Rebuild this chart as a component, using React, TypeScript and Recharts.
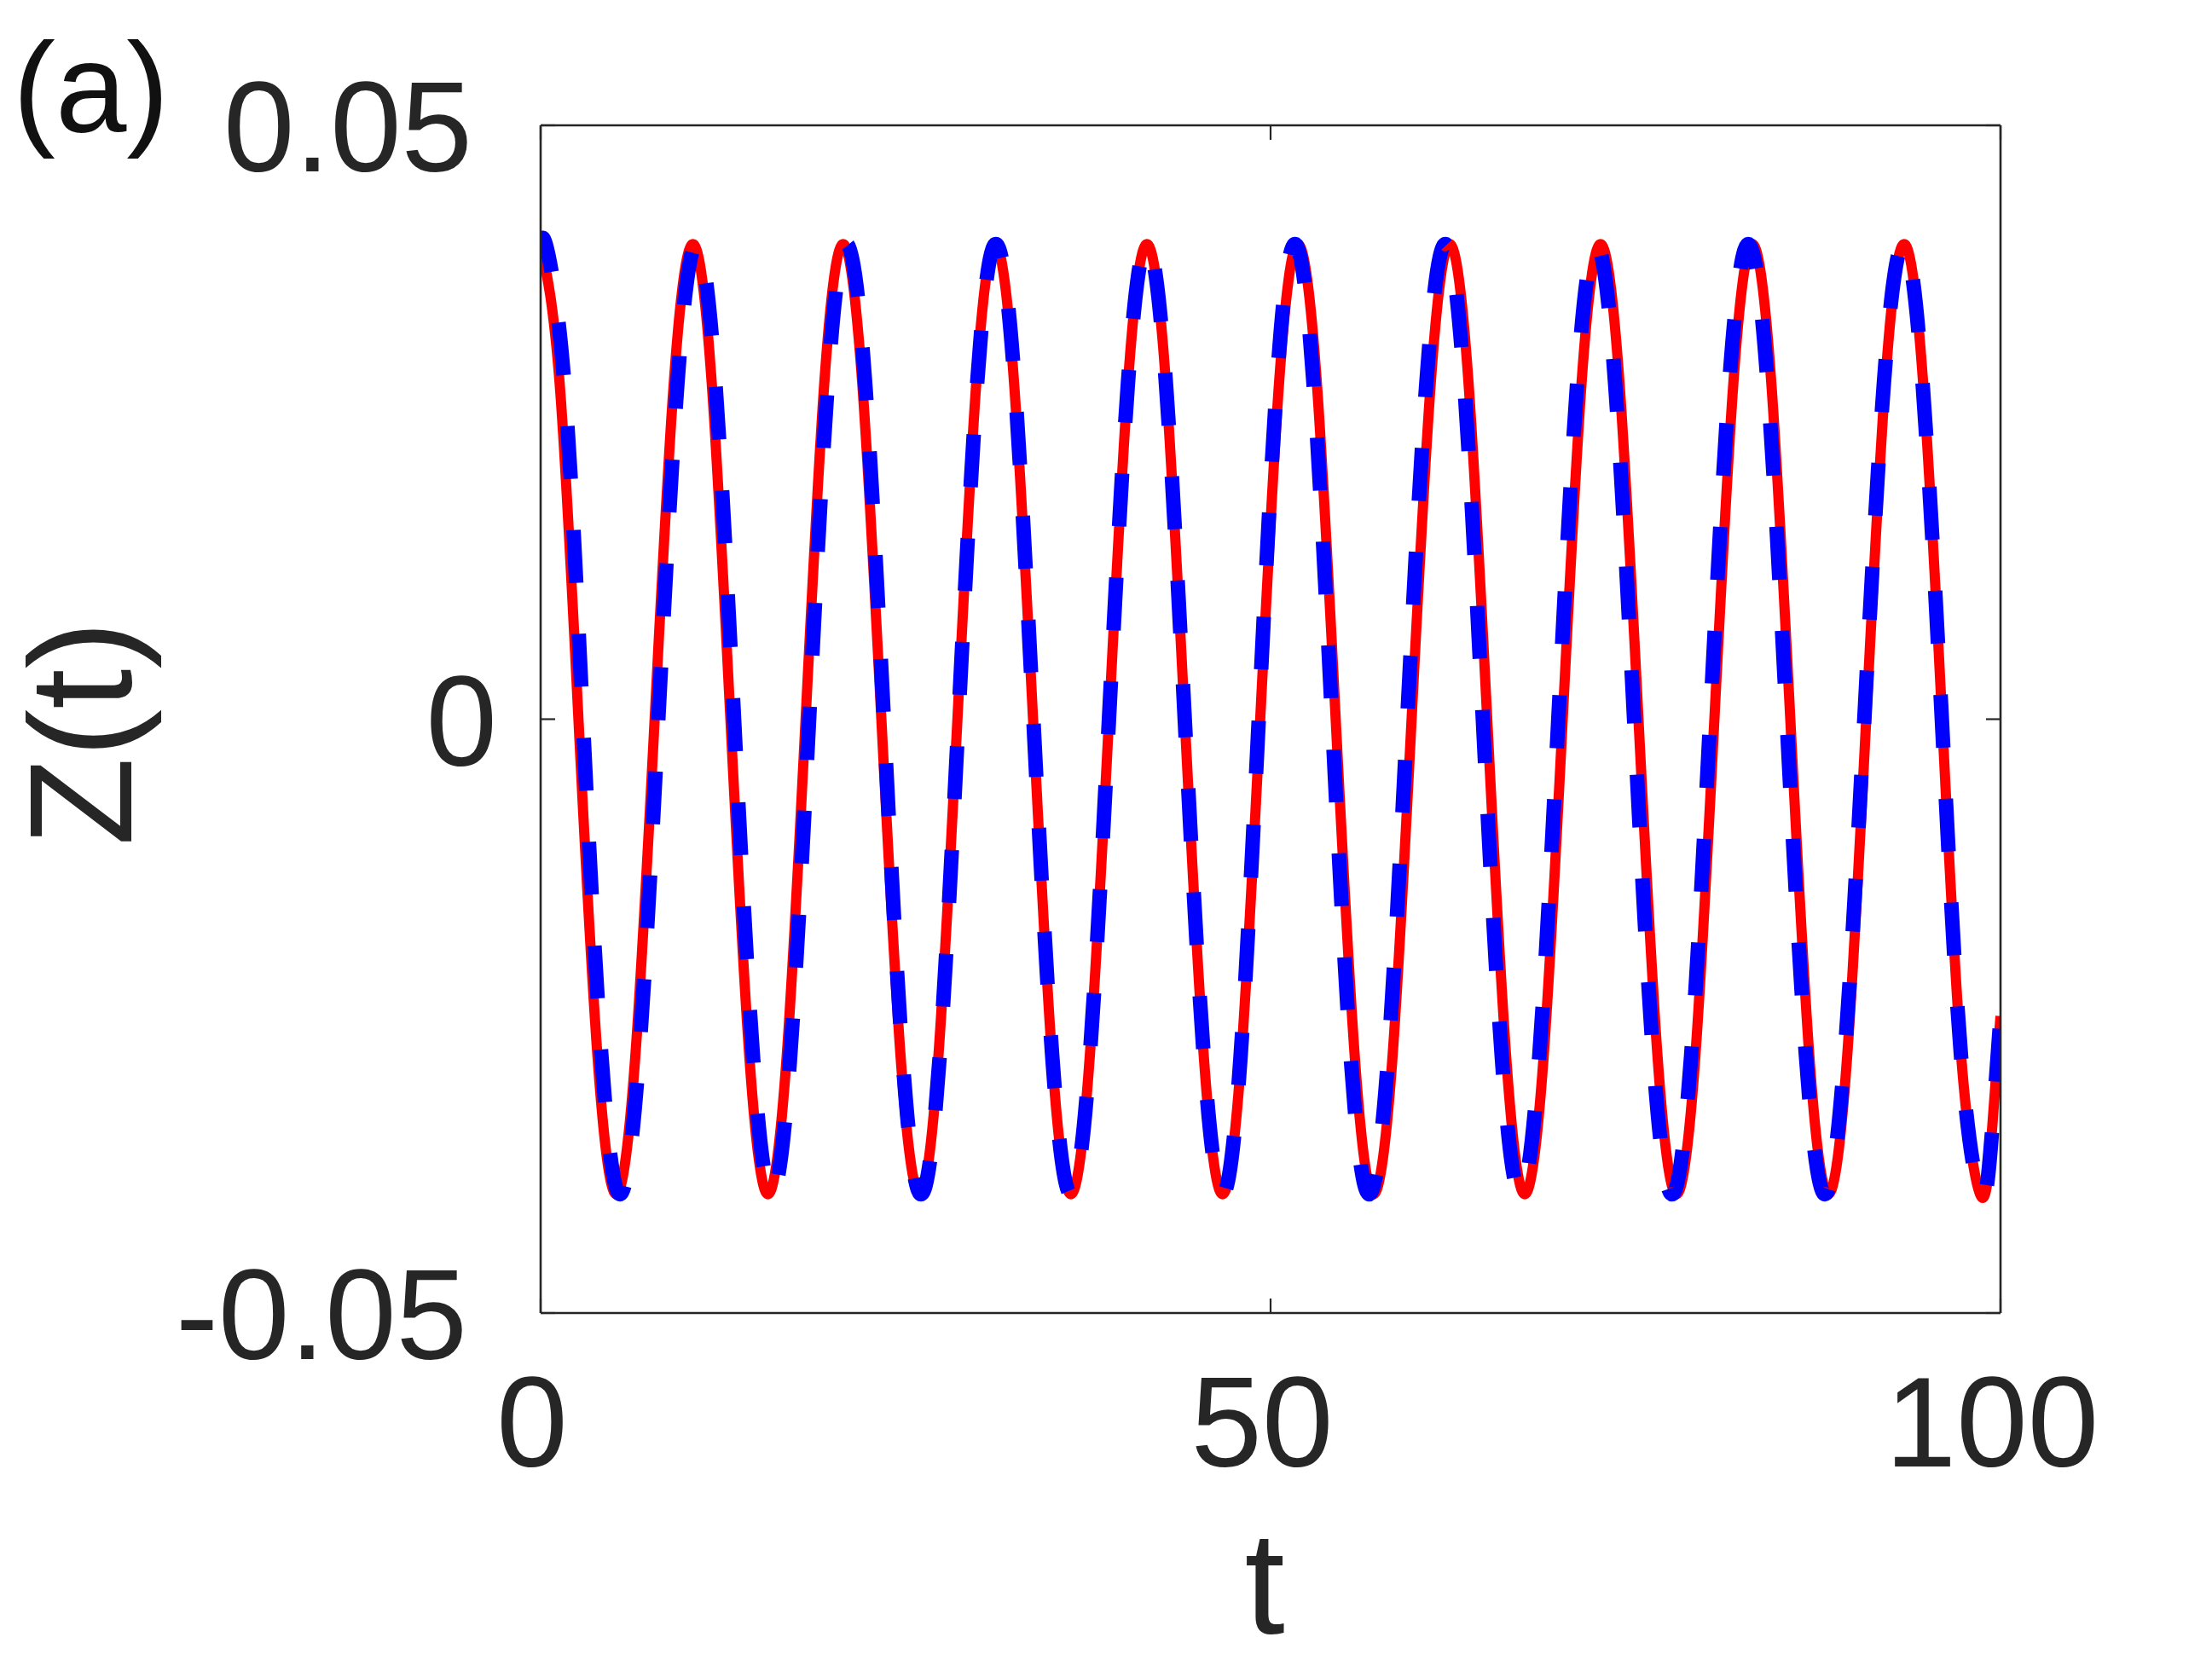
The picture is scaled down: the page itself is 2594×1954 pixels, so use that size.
import React from 'react';
import { LineChart, Line, XAxis, YAxis } from 'recharts';

// t values and Z(t) values (red solid curve)
const redT = [
  0, 1.30, 2.59, 3.89, 5.18, 6.49, 7.81, 9.12, 10.43, 11.72, 13.00, 14.29, 15.57,
  16.86, 18.15, 19.43, 20.72, 22.03, 23.34, 24.65, 25.96, 27.25, 28.55, 29.84, 31.13,
  32.43, 33.73, 35.02, 36.32, 37.62, 38.93, 40.23, 41.53, 42.83, 44.12, 45.42, 46.71,
  48.00, 49.29, 50.58, 51.87, 53.17, 54.46, 55.76, 57.05, 58.36, 59.66, 60.97, 62.27,
  63.56, 64.84, 66.13, 67.41, 68.71, 70.01, 71.30, 72.60, 73.90, 75.20, 76.50, 77.80,
  79.10, 80.40, 81.70, 83.00, 84.30, 85.60, 86.90, 88.20, 89.50, 90.80, 92.10, 93.40,
  94.70, 96.00, 97.30, 98.60, 99.30, 100,
];
const redZ = [
  0.04, 0.0283, 0, -0.0283, -0.04, -0.0283, 0, 0.0283, 0.04, 0.0283, 0, -0.0283, -0.04,
  -0.0283, 0, 0.0283, 0.04, 0.0283, 0, -0.0283, -0.04, -0.0283, 0, 0.0283, 0.04,
  0.0283, 0, -0.0283, -0.04, -0.0283, 0, 0.0283, 0.04, 0.0283, 0, -0.0283, -0.04,
  -0.0283, 0, 0.0283, 0.04, 0.0283, 0, -0.0283, -0.04, -0.0283, 0, 0.0283, 0.04,
  0.0283, 0, -0.0283, -0.04, -0.0283, 0, 0.0283, 0.04, 0.0283, 0, -0.0283, -0.04,
  -0.0283, 0, 0.0283, 0.04, 0.0283, 0, -0.0283, -0.04, -0.0283, 0, 0.0283, 0.04,
  0.0283, 0, -0.0283, -0.04, -0.0365, -0.025,
];

// blue dashed curve
const blueT = [
  0, 0.35, 1.62, 2.89, 4.16, 5.43, 6.74, 8.06, 9.37, 10.68, 11.97, 13.25, 14.54, 15.82,
  17.10, 18.39, 19.67, 20.95, 22.23, 23.51, 24.78, 26.06, 27.34, 28.62, 29.90, 31.18,
  32.47, 33.75, 35.04, 36.32, 37.62, 38.93, 40.23, 41.53, 42.83, 44.12, 45.42, 46.71,
  47.95, 49.19, 50.43, 51.67, 52.94, 54.21, 55.48, 56.75, 58.06, 59.36, 60.67, 61.97,
  63.26, 64.54, 65.83, 67.11, 68.41, 69.71, 71.00, 72.30, 73.60, 74.90, 76.20, 77.50,
  78.81, 80.11, 81.42, 82.72, 84.04, 85.35, 86.67, 87.98, 89.32, 90.67, 92.01, 93.35,
  94.66, 95.98, 97.29, 98.60, 99.30, 100,
];
const blueZ = [
  0.0391, 0.04, 0.0283, 0, -0.0283, -0.04, -0.0283, 0, 0.0283, 0.04, 0.0283, 0, -0.0283, -0.04,
  -0.0283, 0, 0.0283, 0.04, 0.0283, 0, -0.0283, -0.04, -0.0283, 0, 0.0283, 0.04,
  0.0283, 0, -0.0283, -0.04, -0.0283, 0, 0.0283, 0.04, 0.0283, 0, -0.0283, -0.04,
  -0.0283, 0, 0.0283, 0.04, 0.0283, 0, -0.0283, -0.04, -0.0283, 0, 0.0283, 0.04,
  0.0283, 0, -0.0283, -0.04, -0.0283, 0, 0.0283, 0.04, 0.0283, 0, -0.0283, -0.04,
  -0.0283, 0, 0.0283, 0.04, 0.0283, 0, -0.0283, -0.04, -0.0283, 0, 0.0283, 0.04,
  0.0283, 0, -0.0283, -0.04, -0.0365, -0.025,
];

const xTicks = [0, 50, 100];
const yTicks = [-0.05, 0, 0.05];
const xLabel = 't';
const yLabel = 'Z(t)';
const panelLabel = '(a)';

const redData = redT.map((t, i) => ({ t, z: redZ[i] }));
const blueData = blueT.map((t, i) => ({ t, z: blueZ[i] }));

const FONT = '"Liberation Sans", Arial, Helvetica, sans-serif';
const INK = '#262626';
const TICK_LEN = 17;
const TICK_FONT = 150;
const LABEL_FONT = 170;

const BottomTick = (props: any) => {
  const { x, y, payload } = props;
  return (
    <g>
      <line x1={x} y1={y} x2={x} y2={y - TICK_LEN} stroke={INK} strokeWidth={2.2} />
      <text x={x - 10} y={y + 180} textAnchor="middle" fontSize={TICK_FONT} fontFamily={FONT} fill={INK}>
        {String(payload.value)}
      </text>
    </g>
  );
};

const TopTick = (props: any) => {
  const { x, y } = props;
  return <line x1={x} y1={y} x2={x} y2={y + TICK_LEN} stroke={INK} strokeWidth={2.2} />;
};

const LeftTick = (props: any) => {
  const { x, y, payload } = props;
  const v = payload.value;
  const off = v === 0 ? 51 : v > 0 ? 80 : 86;
  return (
    <g>
      <line x1={x} y1={y} x2={x + TICK_LEN} y2={y} stroke={INK} strokeWidth={2.2} />
      <text x={x - off} y={y + 54} textAnchor="end" fontSize={TICK_FONT} fontFamily={FONT} fill={INK}>
        {String(v)}
      </text>
    </g>
  );
};

const RightTick = (props: any) => {
  const { x, y } = props;
  return <line x1={x} y1={y} x2={x - TICK_LEN} y2={y} stroke={INK} strokeWidth={2.2} />;
};

const axisLine = { stroke: INK, strokeWidth: 2.6 };

export default function App() {
  return (
    <div style={{ position: 'absolute', left: 0, top: 0, width: 2594, height: 1954, background: '#fff' }}>
      <LineChart
        width={2594}
        height={1954}
        margin={{ top: 146, right: 247, bottom: 413, left: 633 }}
      >
        <XAxis
          xAxisId="b"
          dataKey="t"
          type="number"
          domain={[0, 100]}
          ticks={xTicks}
          allowDataOverflow
          height={1}
          tickSize={0}
          tickMargin={0}
          tickLine={false}
          axisLine={axisLine}
          tick={<BottomTick />}
          interval={0}
        />
        <XAxis
          xAxisId="top"
          orientation="top"
          dataKey="t"
          type="number"
          domain={[0, 100]}
          ticks={xTicks}
          allowDataOverflow
          height={1}
          tickSize={0}
          tickMargin={0}
          tickLine={false}
          axisLine={axisLine}
          tick={<TopTick />}
          interval={0}
        />
        <YAxis
          yAxisId="l"
          type="number"
          domain={[-0.05, 0.05]}
          ticks={yTicks}
          allowDataOverflow
          width={1}
          tickSize={0}
          tickMargin={0}
          tickLine={false}
          axisLine={axisLine}
          tick={<LeftTick />}
          interval={0}
        />
        <YAxis
          yAxisId="r"
          orientation="right"
          type="number"
          domain={[-0.05, 0.05]}
          ticks={yTicks}
          allowDataOverflow
          width={1}
          tickSize={0}
          tickMargin={0}
          tickLine={false}
          axisLine={axisLine}
          tick={<RightTick />}
          interval={0}
        />
        <Line
          xAxisId="b"
          yAxisId="l"
          data={redData}
          dataKey="z"
          type="natural"
          stroke="#FF0000"
          strokeWidth={12}
          dot={false}
          activeDot={false}
          isAnimationActive={false}
        />
        <Line
          xAxisId="b"
          yAxisId="l"
          data={blueData}
          dataKey="z"
          type="natural"
          stroke="#0000FF"
          strokeWidth={17}
          strokeDasharray="62 60"
          strokeLinecap="butt"
          dot={false}
          activeDot={false}
          isAnimationActive={false}
        />
        <text x={15} y={155} fontSize={150} fontFamily={FONT} fill="#111">{panelLabel}</text>
        <text x={1483} y={1916} textAnchor="middle" fontSize={LABEL_FONT} fontFamily={FONT} fill={INK}>{xLabel}</text>
        <text
          x={154}
          y={860}
          textAnchor="middle"
          fontSize={LABEL_FONT}
          fontFamily={FONT}
          fill={INK}
          transform="rotate(-90 154 860)"
        >
          {yLabel}
        </text>
      </LineChart>
    </div>
  );
}
